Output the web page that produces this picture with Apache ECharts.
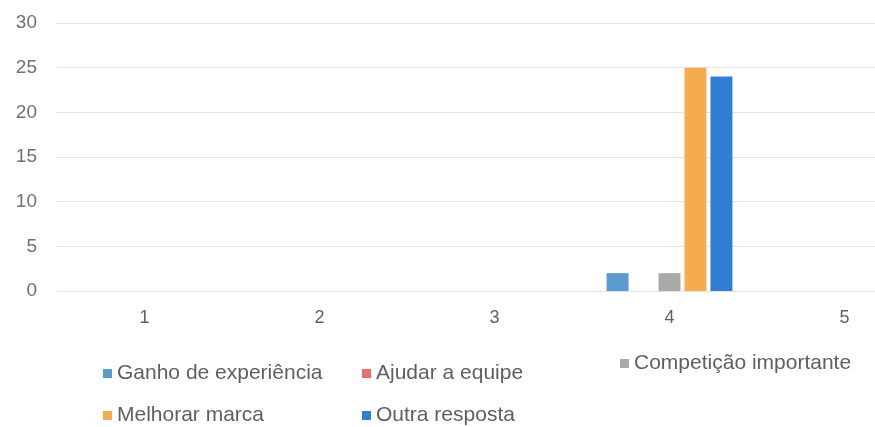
<!DOCTYPE html>
<html><head><meta charset="utf-8">
<script src="https://cdn.jsdelivr.net/npm/echarts@6/dist/echarts.min.js"></script>
<style>html,body{margin:0;padding:0;background:#fff}#c{width:875px;height:427px}</style>
</head><body><div id="c"></div>
<script>
const categories = ['1','2','3','4','5'];
const ganho = [0,0,0,2,0];
const ajudar = [0,0,0,0,0];
const competicao = [0,0,0,2,0];
const melhorar = [0,0,0,25,0];
const outra = [0,0,0,24,0];
const yTicks = [0,5,10,15,20,25,30];

const names = ['Ganho de experiência','Ajudar a equipe','Competição importante','Melhorar marca','Outra resposta'];
const colors = ['#5b9bd0','#e86f6f','#a9a9a9','#f5ac4e','#2f80d4'];
const values = [ganho, ajudar, competicao, melhorar, outra];

const font = 'Liberation Sans, Arial, sans-serif';
const legendText = {color:'#5f5f5f', fontSize:21, fontFamily:font};
function leg(name, left, top){
  return {data:[name], left:left, top:top, orient:'horizontal', itemWidth:9, itemHeight:9,
    icon:'rect', textStyle:legendText, padding:0};
}
const chart = echarts.init(document.getElementById('c'));
chart.setOption({
  animation:false,
  backgroundColor:'#ffffff',
  grid:{left:57, width:875, top:23, height:268, containLabel:false, outerBoundsMode:'none'},
  xAxis:{type:'category', data:categories,
    axisLine:{show:false}, axisTick:{show:false},
    axisLabel:{color:'#606060', fontSize:18, fontFamily:font, margin:18}},
  yAxis:{type:'value', min:yTicks[0], max:yTicks[yTicks.length-1], interval:5,
    axisLine:{show:false}, axisTick:{show:false},
    axisLabel:{color:'#707070', fontSize:19, fontFamily:font, margin:20},
    splitLine:{lineStyle:{color:'#e2e2e2', width:1}}},
  legend:[
    leg(names[0], 103, 363),
    leg(names[1], 362, 363),
    leg(names[2], 620, 353),
    leg(names[3], 103, 405),
    leg(names[4], 362, 405)
  ],
  series: names.map((n,i)=>({
    name:n, type:'bar', data:values[i], barWidth:22, barGap:'18%',
    itemStyle:{color:colors[i]}
  }))
});
</script></body></html>
